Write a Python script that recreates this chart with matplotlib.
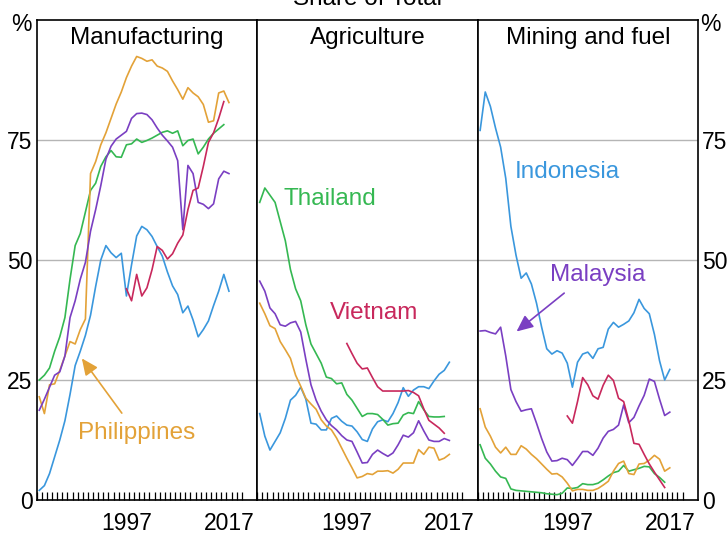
import numpy as np
import matplotlib
matplotlib.use('Agg')
import matplotlib.pyplot as plt

plt.rcParams['font.family'] = ['Liberation Sans', 'DejaVu Sans']

years = np.arange(1980, 2018)
years_th = np.arange(1980, 2017)
years_vn = np.arange(1997, 2017)

# Manufacturing, % of total
man_indonesia = [2, 3, 5.5, 9, 12.5, 16.5, 22, 28, 31, 34.3,
                 38.5, 44.5, 50, 53, 51.5, 50.5, 51.4, 42.5, 49, 55,
                 57, 56.3, 54.9, 52.8, 50.8, 47.5, 44.6, 42.8, 39, 40.4,
                 37.5, 34, 35.5, 37.3, 40.5, 43.5, 47, 43.5]
man_malaysia = [18.7, 21, 23.5, 26, 26.7, 30, 38, 41.5, 46, 49.5,
                56, 60.5, 65.5, 71, 73.7, 75.2, 76, 76.8, 79.5, 80.5,
                80.6, 80.3, 79.2, 77.5, 76, 74.8, 73.5, 70.7, 56.3, 69.7,
                68, 62, 61.6, 60.7, 61.7, 66.9, 68.5, 68]
man_philippines = [21.5, 18, 24, 24.2, 27, 30, 33, 32.5, 35.5, 37.7,
                   68, 70.5, 74, 76.5, 79.5, 82.5, 85, 88, 90.4, 92.4,
                   92, 91.4, 91.7, 90.4, 90, 89.3, 87.3, 85.5, 83.5, 85.9,
                   84.8, 84, 82.4, 78.7, 79, 84.8, 85.2, 82.8]
man_thailand = [25, 26, 27.5, 31, 34, 38, 46, 53, 55.5, 60,
                64.5, 66, 69.5, 71.5, 72.8, 71.5, 71.4, 74, 74.2, 75.2,
                74.5, 74.9, 75.4, 76, 76.6, 76.9, 76.4, 76.9, 73.8, 74.9,
                75.2, 72.1, 73.5, 75.2, 76.4, 77.3, 78.2]
man_vietnam = [44, 41.5, 47, 42.5, 44.2, 48, 52.8, 52, 50.2, 51.3,
               53.5, 55.2, 60.5, 64.5, 65, 69.5, 74.5, 76.5, 79.5, 83]

# Agriculture, % of total
agr_indonesia = [18, 13.3, 10.4, 12.2, 14, 17, 20.8, 21.8, 23.5, 21,
                 16, 15.8, 14.6, 14.6, 17, 17.5, 16.4, 15.6, 15.4, 14.2,
                 12.6, 12.2, 14.8, 16.3, 16.7, 16.3, 18, 20.3, 23.4, 21.6,
                 22.9, 23.6, 23.6, 23.2, 24.8, 26.2, 27, 28.7]
agr_malaysia = [45.6, 43.5, 40, 38.8, 36.5, 36.2, 36.9, 37.2, 35, 29.3,
                24, 20.8, 18.5, 16.7, 15.5, 14.6, 13.4, 12.5, 12.2, 10,
                7.7, 7.8, 9.5, 10.4, 9.7, 9.1, 9.8, 11.5, 13.5, 13.1,
                14, 16.5, 14.4, 12.5, 12.2, 12.2, 12.8, 12.4]
agr_philippines = [41, 38.8, 36.3, 35.7, 33, 31.3, 29.5, 26, 23.7, 21.2,
                   20, 18.9, 16.7, 15.4, 14.6, 12.9, 10.8, 8.7, 6.7, 4.6,
                   4.9, 5.5, 5.3, 6, 6, 6.1, 5.6, 6.4, 7.7, 7.7,
                   7.7, 10.5, 9.5, 11, 10.8, 8.3, 8.7, 9.5]
agr_thailand = [62, 65, 63.5, 62, 58, 54, 48, 44, 41.5, 36.5,
                32.5, 30.5, 28.5, 25.6, 25.3, 24.2, 24.4, 22, 20.8, 19.1,
                17.4, 18, 18, 17.8, 16.8, 15.6, 15.9, 16, 17.7, 18.2,
                18, 20.5, 18.8, 17.4, 17.3, 17.3, 17.4]
agr_vietnam = [32.6, 30.5, 28.5, 27.3, 27.5, 25.5, 23.6, 22.7, 22.7, 22.7,
               22.7, 22.7, 22.8, 22.4, 21.7, 19, 16.6, 15.8, 15, 13.9]

# Mining and fuel, % of total
min_indonesia = [77, 85, 82, 77.5, 73.5, 67, 57, 51, 46.2, 47.3,
                 45, 41, 36, 31.5, 30.4, 31.1, 30.6, 28.5, 23.5, 28.7,
                 30.4, 30.8, 29.5, 31.5, 31.8, 35.6, 37, 36, 36.6, 37.3,
                 39, 41.8, 39.9, 38.8, 34.5, 29, 25, 27.2]
min_malaysia = [35.2, 35.3, 34.9, 34.6, 36, 30, 23, 20.5, 18.5, 18.8,
                19, 16, 12.8, 10, 8.1, 8.2, 8.7, 8.4, 7.2, 8.6,
                10.1, 10.1, 9.3, 10.8, 12.9, 14.3, 14.7, 15.6, 19.8, 16.1,
                17.2, 19.6, 21.8, 25.2, 24.7, 21, 17.6, 18.3]
min_philippines = [19, 15.2, 13.3, 11, 9.8, 11, 9.5, 9.5, 11.3, 10.6,
                   9.5, 8.6, 7.5, 6.4, 5.4, 5.5, 4.8, 3.5, 1.9, 2.2,
                   2.2, 2, 2, 2.4, 3.1, 3.9, 6, 7.6, 8.1, 5.5,
                   5.3, 7.5, 7.6, 8.3, 9.3, 8.5, 6, 6.7]
min_thailand = [11.5, 8.7, 7.5, 6, 4.8, 4.5, 2.3, 2, 1.9, 1.8,
                1.7, 1.6, 1.5, 1.3, 1.2, 1.1, 1.4, 2.5, 2.4, 2.6,
                3.4, 3.2, 3.2, 3.5, 4.2, 5, 5.7, 6, 7.2, 6,
                6.3, 6.6, 7, 6.9, 5.5, 4.7, 3.7]
min_vietnam = [17.5, 16, 20.5, 25.5, 24, 21.7, 21, 23.9, 26, 24.9,
               21.2, 20.5, 16.5, 11.8, 11.6, 9.5, 7.5, 5.8, 4.2, 2.6]

titles = ['Manufacturing', 'Agriculture', 'Mining and fuel']

c_ind = '#3a97dd'
c_mal = '#7a3fc2'
c_phi = '#e3a238'
c_tha = '#35b852'
c_vie = '#c8285c'

fig, axes = plt.subplots(1, 3, figsize=(7.27, 5.36), dpi=100, sharey=True)
fig.subplots_adjust(left=0.0505, right=0.9601, bottom=0.0672, top=0.9627, wspace=0)

panels = [
    (man_indonesia, man_malaysia, man_philippines, man_thailand, man_vietnam),
    (agr_indonesia, agr_malaysia, agr_philippines, agr_thailand, agr_vietnam),
    (min_indonesia, min_malaysia, min_philippines, min_thailand, min_vietnam),
]

lw = 1.2
for ax, title, (ind, mal, phi, tha, vie) in zip(axes, titles, panels):
    for g in [25, 50, 75]:
        ax.axhline(g, color='#b5b5b5', lw=1.0, zorder=0)
    ax.plot(years + 0.5, ind, color=c_ind, lw=lw)
    ax.plot(years_th + 0.5, tha, color=c_tha, lw=lw)
    ax.plot(years + 0.5, phi, color=c_phi, lw=lw)
    ax.plot(years + 0.5, mal, color=c_mal, lw=lw)
    ax.plot(years_vn + 0.5, vie, color=c_vie, lw=lw)

    ax.set_xlim(1980, 2023)
    ax.set_ylim(0, 100)
    ax.set_xticks([1997.5, 2017.5])
    ax.set_xticklabels(['1997', '2017'], fontsize=16.5)
    ax.set_xticks(np.arange(1980, 2021), minor=True)
    ax.tick_params(axis='x', which='major', length=0, pad=9)
    ax.tick_params(axis='x', which='minor', direction='in', length=6, width=0.9, color='black')
    ax.set_yticks([0, 25, 50, 75])
    ax.tick_params(axis='y', length=0, labelsize=16.5, pad=3)
    for s in ax.spines.values():
        s.set_color('black')
        s.set_linewidth(1.2)
    ax.text(0.5, 96.3, title, transform=ax.get_yaxis_transform(),
            ha='center', va='center', fontsize=17.5)

axes[2].tick_params(axis='y', labelleft=False, labelright=True)

axes[0].text(-0.025, 99, '%', transform=axes[0].get_yaxis_transform(),
             ha='right', va='center', fontsize=16.5)
axes[2].text(1.01, 99, '%', transform=axes[2].get_yaxis_transform(),
             ha='left', va='center', fontsize=16.5)

# labels
axes[0].text(1999.4, 13.9, 'Philippines', color=c_phi, fontsize=17.5, ha='center', va='center')
axes[0].annotate('', xy=(1988.8, 29.5), xytext=(1996.6, 18.1),
                 arrowprops=dict(arrowstyle='-|>,head_length=1.0,head_width=0.45',
                                 color=c_phi, lw=1.2, shrinkA=0, shrinkB=0))
axes[1].text(1994.2, 62.7, 'Thailand', color=c_tha, fontsize=17.5, ha='center', va='center')
axes[1].text(2002.9, 39, 'Vietnam', color=c_vie, fontsize=17.5, ha='center', va='center')
axes[2].text(1997.5, 68.3, 'Indonesia', color=c_ind, fontsize=17.5, ha='center', va='center')
axes[2].text(2003.4, 46.9, 'Malaysia', color=c_mal, fontsize=17.5, ha='center', va='center')
axes[2].annotate('', xy=(1987.6, 35.1), xytext=(1996.9, 43.1),
                 arrowprops=dict(arrowstyle='-|>,head_length=1.0,head_width=0.45',
                                 color=c_mal, lw=1.2, shrinkA=0, shrinkB=0))

fig.text(0.505, 0.991, 'Share of Total', ha='center', va='baseline', fontsize=17.5)

fig.savefig('out.png', dpi=100)
